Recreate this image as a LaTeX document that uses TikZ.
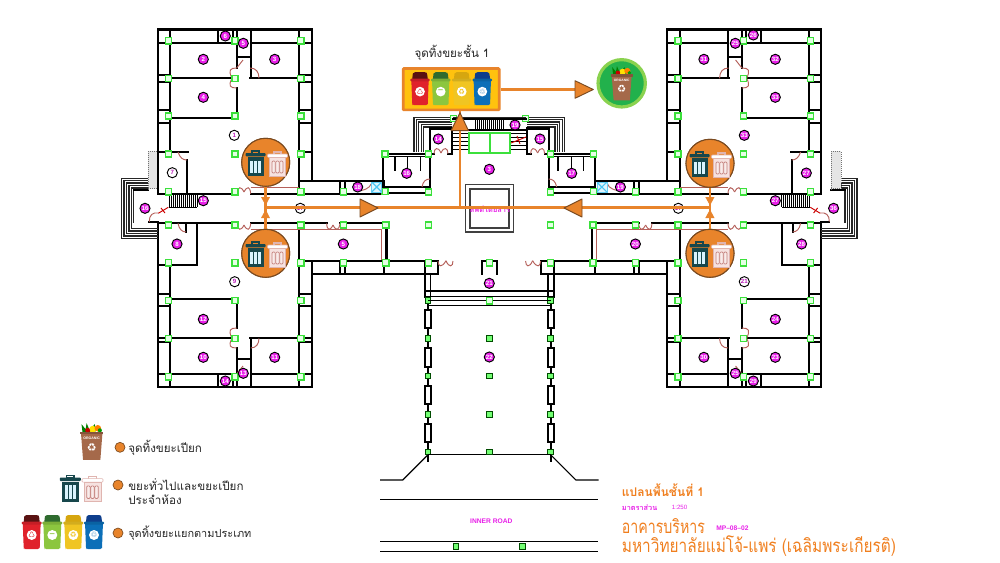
\documentclass[tikz,border=0pt]{standalone}
\usepackage{fontspec}
\newfontfamily\thaifont[Script=Thai]{Loma}
\newfontfamily\symfont{DejaVu Sans}
\setmainfont{Liberation Sans}
\definecolor{wcorange}{HTML}{E8842B}
\definecolor{wcbrown}{HTML}{7A4A20}
\definecolor{wcmag}{HTML}{E81FE8}
\definecolor{wcdoor}{HTML}{B5605A}
\definecolor{wcteal}{HTML}{17474C}
\definecolor{wcpink}{HTML}{F3D9D6}
\definecolor{wcpinkd}{HTML}{E0B5B0}
\definecolor{wcorg}{HTML}{A5694A}
\definecolor{wctitle}{HTML}{F07F1F}
\definecolor{wccol}{HTML}{3BE03B}
\definecolor{binred}{HTML}{E0222B}\definecolor{binredd}{HTML}{5A1212}
\definecolor{bingreen}{HTML}{8CC63F}\definecolor{bingreend}{HTML}{2F6B2F}
\definecolor{binyellow}{HTML}{F0C522}\definecolor{binyellowd}{HTML}{D6A60F}
\definecolor{binblue}{HTML}{0C6FB8}\definecolor{binblued}{HTML}{0E3E8C}
\definecolor{boxyellow}{HTML}{FFC20E}
\definecolor{discgreen}{HTML}{22B14C}
\definecolor{discring}{HTML}{8AD24F}
\tikzset{
 wall/.style={line width=1.65pt,draw=black,line cap=rect},
 thin wall/.style={line width=.9pt,draw=black},
 stairline/.style={line width=1pt,draw=black!85},
 doorline/.style={line width=.7pt,draw=wcdoor},
 redline/.style={line width=.7pt,draw=red!80!black},
 colbox/.style={rectangle,draw=wccol,fill=green!10,line width=1.1pt,minimum size=4.6pt,inner sep=0pt},
 colboxd/.style={rectangle,draw=green!30!black,fill=green!55,line width=.7pt,minimum size=4.3pt,inner sep=0pt},
 roomnum/.style={circle,draw=black,fill=wcmag,line width=.7pt,minimum size=7.6pt,inner sep=0pt,text=white,font=\fontsize{4.6}{5}\selectfont\bfseries},
 roomnumw/.style={roomnum,fill=white,text=wcmag!80!black},
 flow/.style={line width=1.9pt,draw=wcorange},
 tip/.style={fill=wcorange,draw=wcbrown,line width=.7pt,line join=round},
 thaitext/.style={font=\thaifont\fontsize{8.7}{11}\selectfont,text=black!85,anchor=west,inner sep=0pt},
 legenddot/.style={circle,fill=wcorange,draw=wcbrown,line width=.5pt,minimum size=7.5pt,inner sep=0pt},
 bigdot/.style={circle,fill=wcorange,draw=wcbrown,line width=.8pt,minimum size=36pt,inner sep=0pt},
 ttl/.style={anchor=west,inner sep=0pt,text=wctitle},
}
\newcommand{\col}[2]{\node[colbox] at (#1,#2) {};}
\newcommand{\cold}[2]{\node[colboxd] at (#1,#2) {};}
\newcommand{\recbin}[6]{\begin{scope}[shift={(#1,#2)},scale=#3]
 \fill[#4] (-8,-10) -- (-7.4,-15.5) [rounded corners=1pt] -- (-6.5,-17) -- (6.5,-17) -- (7.4,-15.5) [sharp corners] -- (8,-10) -- cycle;
 \fill[#5] (-9,-10) -- (9,-10) -- (8,16) [rounded corners=1pt] -- (7.6,17) -- (-7.6,17) -- (-8,16) [sharp corners] -- cycle;
 \fill[#5!88!black,rounded corners=.8pt] (-10,-10.5) rectangle (10,-7.5);
 \fill[white] (0,3) circle (5);
 \node[text=#5,font=\symfont\fontsize{5.6}{6}\selectfont\bfseries,inner sep=0pt,transform shape] (g) at (0,3) {#6};
\end{scope}}
\newcommand{\orgbin}[3]{\begin{scope}[shift={(#1,#2)},scale=#3]
 \fill[green!50!black] (-9,-9) -- (-10,-17) -- (-6,-12) -- (-5,-18) -- (-2,-11) -- (3,-17) -- (4,-10) -- cycle;
 \fill[yellow!85!orange] (1,-12) circle (3.4);
 \fill[orange] (6,-13) circle (3.2);
 \fill[red!80!black] (-4,-11) circle (2.4);
 \fill[green!60!black] (8,-11) circle (2);
 \fill[wcorg] (-10.5,-8) -- (10.5,-8) -- (8.5,18) -- (-8.5,18) -- cycle;
 \fill[wcorg!80!black] (-11.5,-9.5) rectangle (11.5,-7);
 \node[text=white,font=\fontsize{2.6}{3}\selectfont\bfseries,inner sep=0pt,transform shape] (t) at (0,-3) {ORGANIC};
 \node[text=white,font=\symfont\fontsize{8}{9}\selectfont,inner sep=0pt,transform shape] (r) at (0,6) {♻};
\end{scope}}
\newcommand{\trasha}[3]{\begin{scope}[shift={(#1,#2)},scale=#3]
 \draw[wcteal,line width=1pt] (-3.5,-9.5) rectangle (3.5,-12);
 \fill[wcteal,rounded corners=.7pt] (-10,-10) rectangle (10,-6.6);
 \fill[wcteal] (-8,-5.6) rectangle (8,13);
 \fill[white!85!cyan] (-5.5,-2.5) rectangle (-2.4,10);
 \fill[white!85!cyan] (-1.5,-2.5) rectangle (1.5,10);
 \fill[white!85!cyan] (2.4,-2.5) rectangle (5.5,10);
\end{scope}}
\newcommand{\trashb}[3]{\begin{scope}[shift={(#1,#2)},scale=#3]
 \draw[wcpinkd,line width=.8pt] (-3.5,-8.5) rectangle (3.5,-11);
 \draw[wcpinkd,fill=white,line width=.4pt,rounded corners=.7pt] (-10,-9) rectangle (10,-5.6);
 \draw[wcpinkd,fill=wcpink!75!white,line width=.4pt] (-8,-5.3) rectangle (8,13);
 \draw[wcdoor!80!white,line width=.5pt,fill=wcpink!50!white,rounded corners=.8pt] (-5.5,-2) rectangle (-2.2,10);
 \draw[wcdoor!80!white,line width=.5pt,fill=wcpink!50!white,rounded corners=.8pt] (-1.6,-2) rectangle (1.6,10);
 \draw[wcdoor!80!white,line width=.5pt,fill=wcpink!50!white,rounded corners=.8pt] (2.2,-2) rectangle (5.5,10);
\end{scope}}
% one half of the plan; the other half is its mirror image
\newcommand{\halfplan}{%
 % outer wing
 \draw[wall] (157.7,152) -- (157.7,29.5) -- (311.7,29.5) -- (311.7,181);
 \draw[wall] (157.7,152) -- (187.5,152);
 \draw[wall] (157.7,193.7) -- (237,193.7);
 \draw[wall] (250.7,193.7) -- (384,193.7);
 \draw[wall] (157.7,223.3) -- (237,223.3);
 \draw[wall] (250.7,223.3) -- (326.7,223.3);
 \draw[wall] (340,223.3) -- (386.5,223.3) -- (386.5,260.7);
 \draw[wall] (157.7,223.3) -- (157.7,387.3) -- (311.7,387.3) -- (311.7,261);
 \draw[wall] (311.7,181) -- (384,181);
 \draw[wall] (170,42.7) -- (170,152);
 \draw[wall] (299,29.5) -- (299,193.7);
 \draw[wall] (157.7,42.7) -- (235,42.7);
 \draw[wall] (250.7,42.7) -- (311.7,42.7);
 \draw[wall] (170,29.5) -- (170,42.7);
 \draw[wall] (217.7,29.5) -- (217.7,42.7);
 \draw[wall] (233,29.5) -- (233,42.7);
 \draw[wall] (236.7,29.5) -- (236.7,68);
 \draw[wall] (250.7,29.5) -- (250.7,77);
 \draw[wall] (236.7,56.7) -- (250.7,56.7);
 \draw[wall] (170,78.3) -- (232,78.3);
 \draw[wall] (250,78.3) -- (299,78.3);
 \draw[wall] (157.7,75) -- (170,75); \draw[wall] (157.7,81.7) -- (170,81.7);
 \draw[wall] (299,75) -- (311.7,75); \draw[wall] (299,81.7) -- (311.7,81.7);
 \draw[wall] (157.7,110) -- (170,110); \draw[wall] (157.7,122.7) -- (170,122.7);
 \draw[wall] (299,110) -- (311.7,110); \draw[wall] (299,122.7) -- (311.7,122.7);
 \draw[wall] (299,152) -- (311.7,152); \draw[wall] (299,181) -- (311.7,181);
 \draw[wall] (236.7,88) -- (236.7,118.3) -- (170,118.3);
 \draw[wall] (186.7,160) -- (186.7,193.7);
 \draw[wall] (340,181) -- (340,193.7); \draw[wall] (345,181) -- (345,193.7);
 \draw[wall] (384,181) -- (384,193.7);
 % lower part
 \draw[wall] (157.7,265) -- (196.7,265) -- (196.7,223.3);
 \draw[wall] (186,223.3) -- (186,232);
 \draw[wall] (170,265) -- (170,387.3);
 \draw[wall] (299,223.3) -- (299,387.3);
 \draw[wall] (299,261) -- (386.5,261);
 \draw[wall] (311.7,274) -- (438,274) -- (438,260.7);
 \draw[wall] (340,261) -- (340,274); \draw[wall] (345,261) -- (345,274);
 \draw[wall] (384,261) -- (384,274);
 \draw[wall] (386.5,260.7) -- (438,260.7);
 \draw[wall] (425,260.7) -- (425,296.7);
 \draw[thin wall] (430.7,274) -- (430.7,296.7);
 \draw[wall] (157.7,294) -- (170,294); \draw[wall] (157.7,306) -- (170,306);
 \draw[wall] (299,294) -- (311.7,294); \draw[wall] (299,306) -- (311.7,306);
 \draw[wall] (170,299) -- (236.7,299) -- (236.7,328);
 \draw[wall] (157.7,338.3) -- (232,338.3);
 \draw[wall] (250,338.3) -- (311.7,338.3);
 \draw[wall] (157.7,341.7) -- (170,341.7); \draw[wall] (299,341.7) -- (311.7,341.7);
 \draw[wall] (250.7,338.3) -- (250.7,387.3);
 \draw[wall] (236.7,348) -- (236.7,387.3);
 \draw[wall] (236.7,359.3) -- (250.7,359.3);
 \draw[wall] (157.7,374.3) -- (236.7,374.3);
 \draw[wall] (250.7,374.3) -- (311.7,374.3);
 \draw[wall] (218,374.3) -- (218,387.3); \draw[wall] (233,374.3) -- (233,387.3);
 % doors
 \draw[doorline] (232,78.3) .. controls (228,70) and (230,68) .. (236.7,68);
 \draw[doorline] (232,78.3) .. controls (228,86) and (230,88) .. (236.7,88);
 \draw[doorline] (250,68) .. controls (256,68) and (259,72) .. (259,78.3);
 \draw[doorline] (232,338.3) .. controls (228,330) and (230,328) .. (236.7,328);
 \draw[doorline] (232,338.3) .. controls (228,346) and (230,348) .. (236.7,348);
 \draw[doorline] (250.7,348) .. controls (256,348) and (259,344) .. (259,338.3);
 \draw[doorline] (237,193.7) .. controls (238,186) and (241,186) .. (244,192);
 \draw[doorline] (250.7,193.7) .. controls (250,186) and (247,186) .. (244,192);
 \draw[doorline] (237,223.3) .. controls (238,231) and (241,231) .. (244,225);
 \draw[doorline] (250.7,223.3) .. controls (250,231) and (247,231) .. (244,225);
 \draw[doorline] (326.7,223.3) .. controls (327,231) and (330,231) .. (333,225);
 \draw[doorline] (340,223.3) .. controls (339,231) and (336,231) .. (333,225);
 \draw[doorline] (178,152) .. controls (180,158) and (183,160) .. (187,160);
 \draw[doorline] (178,223.3) .. controls (179,229) and (182,232) .. (186,232);
 \draw[doorline] (250.7,187.7) -- (299,187.7);
 \draw[doorline] (250.7,229.3) -- (381.7,229.3) -- (381.7,260);
 \draw[doorline] (236.7,68) -- (243,60);
 \draw[doorline] (236.7,374) -- (243,366);
 \draw[doorline] (355,191) .. controls (364,191) and (370,188) .. (371,184);
 \draw[doorline] (438,261) .. controls (438,267) and (442,268) .. (446,260.7);
 \draw[doorline] (453,261) .. controls (453,267) and (449,268) .. (446,260.7);
 % side stairs
 \foreach \i in {0,1,2,3,4}{
  \draw[stairline] (147.7,178.3+2.4*\i) -- (121.7+2.4*\i,178.3+2.4*\i) -- (121.7+2.4*\i,238.3-2.4*\i) -- (157.7,238.3-2.4*\i);}
 \draw[stairline] (133.5,190) -- (133.5,223);
 \draw[wall] (134,190) -- (147.7,190);
 \draw[wall] (149.3,221.7) -- (157.7,221.7);
 \draw[doorline] (149.3,221.7) .. controls (149,215) and (153,212) .. (158.3,213);
 \draw[redline] (158.3,213.3) -- (168.3,207.3);
 \draw[redline] (161,208) -- (165,213);
 \node[draw=black!55,densely dotted,line width=.5pt,fill=black!10,minimum width=7.3pt,minimum height=28pt,inner sep=0pt,anchor=north west] (dot) at (147.7,151) {};
 \draw[wall] (157.7,152) -- (157.7,193.7);
 % small stair block
 \draw[thin wall] (169,207.5) -- (197,207.5);
 \foreach \x in {169,171,...,197}{\draw[line width=.55pt] (\x,194.5) -- (\x,206.5);}
 % central room and front stairs
 \draw[wall] (383.3,193) -- (383.3,153.7) -- (430,153.7) -- (430,193) -- (384,193);
 \draw[thin wall] (383.3,156.7) -- (430,156.7);
 \draw[thin wall] (383.3,187) -- (430,187);
 \draw[thin wall] (395,156.7) -- (395,171); \draw[thin wall] (407.3,156.7) -- (407.3,171); \draw[thin wall] (420.7,156.7) -- (420.7,171);
 \draw[doorline] (422,187) .. controls (423,181) and (426,179) .. (430,179);
 \foreach \i in {0,1,2,3,4}{
  \draw[stairline] (414+2.4*\i,152) -- (414+2.4*\i,117.3+2.4*\i) -- (451.7,117.3+2.4*\i);}
 \draw[wall] (430,153.7) -- (430,128.5) -- (451.7,128.5) -- (451.7,153.7) -- (448,153.7);
 \draw[wall] (430,153.7) -- (434,153.7);
 \draw[doorline] (434,153.7) .. controls (434,148) and (438,146) .. (441,153);
 \draw[doorline] (448,153.7) .. controls (448,148) and (444,146) .. (441,153);
 \draw[line width=.6pt] (452,133) -- (468,133) (452,137) -- (468,137) (452,141) -- (468,141) (452,145) -- (468,145) (452,149) -- (468,149);
 % verandah
 \draw[wall] (428,296.7) -- (428,310);
 \foreach \y in {310,348.3,386,424}{
  \draw[line width=1.5pt] (425,\y) rectangle (431,\y+18.3);
  \draw[line width=1.5pt] (428,\y+18.3) -- (428,\y+38);}
 % road edge
 \draw[line width=.9pt] (428,454.7) -- (402.7,480) -- (380,480);
 % columns
 \foreach \y in {40.7,78.3,116,154,191.7,225,262.7,300.3,338.3,376.7}{\col{168.3}{\y}\col{300.7}{\y}}
 \foreach \y in {40.7,78.3,116,154,191.7,225,262.7,300.3,338.3,376.7}{\col{235}{\y}}
 \col{343.3}{191.7}\col{385}{191.3}\col{343.3}{225}\col{385.7}{225}\col{343.3}{262.7}\col{385.7}{262.7}
 \col{385}{154}\col{428.3}{154}\col{428.3}{192}\col{428.3}{225}\col{428.3}{262.7}
 \col{453.3}{118.3}
 \foreach \y in {300.7,338.3,376,414.3,452}{\cold{428}{\y}}
 % lift cross
 \node[draw=cyan!60,fill=cyan!12,line width=.5pt,minimum size=7.4pt,inner sep=0pt] (xb) at (376.7,187) {};
 \draw[cyan!70,line width=.9pt] (372,182.3) -- (381.5,191.7) (381.5,182.3) -- (372,191.7);
}
\begin{document}
\begin{tikzpicture}[x=0.75pt,y=-0.75pt]
\useasboundingbox (0,0) rectangle (1000,562);
\fill[white] (0,0) rectangle (1000,562);
\halfplan
\begin{scope}[shift={(978.6,0)},xscale=-1]
\halfplan
\end{scope}
% shared central parts
\draw[stairline] (453,117.3) -- (526,117.3);
\draw[wall] (453,119) -- (526,119);
\foreach \x in {475,477,...,503}{\draw[line width=.55pt] (\x,119) -- (\x,130);}
\draw[line width=.9pt] (453,130) -- (526,130);
\draw[wccol,line width=1.5pt] (469,132.7) rectangle (490,152.7);
\draw[wccol,line width=1.5pt] (490,132.7) rectangle (510,152.7);
\draw[redline] (511,143) -- (526,137);
\draw[redline] (517,136) -- (520,144);
\draw[line width=1pt,draw=black!75] (465.7,184.7) rectangle (513.3,232);
\draw[line width=1pt,draw=black!75] (470,189) rectangle (509,228);
\draw[wall] (481.7,274) -- (481.7,260.7) -- (496.7,260.7) -- (496.7,274);
\draw[line width=1pt] (425,291) -- (553.6,291);
\draw[line width=1pt] (425,296.7) -- (553.6,296.7);
\draw[line width=.8pt] (428,300.7) -- (550.7,300.7);
\draw[line width=.8pt] (428,305.7) -- (550.7,305.7);
\draw[line width=1pt] (428,454.7) -- (550.7,454.7);
\draw[line width=1pt] (380,499.3) -- (598,499.3);
\draw[line width=1pt] (380,541.7) -- (598,541.7);
\draw[line width=.8pt] (380,551.7) -- (598,551.7);
\foreach \x/\y in {489.3/262.7,489.3/300.7}{\col{\x}{\y}}
\foreach \y in {338.3,376,414.3,452}{\cold{489.3}{\y}}
\cold{456}{546.7}\cold{522.3}{546.7}
\node[text=wcmag,font=\thaifont\fontsize{5.6}{7}\selectfont\bfseries,inner sep=0pt] (lift) at (490,209) {ลิฟต์โดยสาร};
\node[text=wcmag,font=\fontsize{5}{6}\selectfont\bfseries,inner sep=0pt] (road) at (491.3,521) {INNER ROAD};
% room numbers
\foreach \x/\y/\t in {203.3/59.3/2,274.7/59.3/3,203.3/97.3/4,225.3/36/6,243.3/43.3/5,145/208.3/16,203.3/200.7/15,177/244/8,343.3/244/5,203.3/319.3/12,203.3/357.3/10,274.7/357.3/11,243.3/373.3/13,225.3/381/14,357.7/187/18,406.7/173.3/16,438.3/139/14,515/125/19,540/139/15,489.3/169.3/3,571.7/173.3/17,620.4/187/19,489.3/283.3/21,489.3/357/22,635.4/244/20,775.3/59.3/32,703.9/59.3/31,775.3/97.3/33,753.3/35/26,735.3/43.3/25,833.6/208.3/36,775.3/200.7/27,801.6/244/28,775.3/319.3/24,775.3/357.3/23,703.9/357.3/30,735.3/373.3/25,753.3/381/29,806.3/173/27,744.3/135.3/33}
 {\node[roomnum] at (\x,\y) {\t};}
\foreach \x/\y/\t in {234.3/135.3/1,172.3/172.7/7,234.7/281.7/9,300.3/208.3/17,744.3/281.7/21,678.3/208.3/17}
 {\node[roomnumw] at (\x,\y) {\t};}
% waste points
\node[bigdot] (pa) at (265.7,162.3) {};
\node[bigdot] (pb) at (265.7,253.3) {};
\node[bigdot] (pc) at (710,163.3) {};
\node[bigdot] (pd) at (710,253.3) {};
\coordinate (ja) at (265.7,207.7);
\coordinate (jb) at (710,207.7);
\coordinate (jc) at (460,207.7);
\draw[flow] (ja) -- (jb);
\draw[flow] (pa) -- (ja);
\draw[flow] (pb) -- (ja);
\draw[flow] (pc) -- (jb);
\draw[flow] (pd) -- (jb);
\node[bigdot] at (pa) {};
\node[bigdot] at (pb) {};
\node[bigdot] at (pc) {};
\node[bigdot] at (pd) {};
\fill[wcorange] (261,197) -- (270,197) -- (265.7,205.5) -- cycle;
\fill[wcorange] (261,218) -- (270,218) -- (265.7,209.5) -- cycle;
\fill[wcorange] (705.3,197) -- (714.5,197) -- (710,205.5) -- cycle;
\fill[wcorange] (705.3,218) -- (714.5,218) -- (710,209.5) -- cycle;
\trasha{255.5}{163}{1}\trashb{277.5}{163}{1}
\trasha{255.5}{254}{1}\trashb{277.5}{254}{1}
\trasha{699.5}{164}{1}\trashb{721.5}{164}{1}
\trasha{699.5}{254}{1}\trashb{721.5}{254}{1}
\draw[tip] (360,199) -- (378,208) -- (360,217) -- cycle;
\draw[tip] (582,199) -- (564,208) -- (582,217) -- cycle;
% central collection box
\node[draw=wcorange,fill=boxyellow,line width=2pt,rounded corners=.6pt,minimum width=72pt,minimum height=31pt,inner sep=0pt] (box) at (451.2,89.2) {};
\recbin{420}{88.7}{.97}{binredd}{binred}{♺}
\recbin{440.7}{88.7}{.97}{bingreend}{bingreen}{−}
\recbin{461.7}{88.7}{.97}{binyellowd}{binyellow}{♻}
\recbin{482.3}{88.7}{.97}{binblued}{binblue}{♲}
\node[thaitext,anchor=center] (boxtitle) at (452,52.5) {จุดทิ้งขยะชั้น 1};
\draw[flow] (jc) -- (box.south -| jc);
\draw[tip] (451,130.7) -- (460,112.7) -- (468.5,130.7) -- cycle;
\node[circle,draw=discring,fill=discgreen,line width=2.4pt,minimum size=35.5pt,inner sep=0pt] (green) at (621.7,83.3) {};
\orgbin{621.7}{83.3}{.95}
\draw[flow] (box.east |- green) ++(0,6) -- (575,89.3);
\draw[tip] (575,80.7) -- (593.3,89.5) -- (575,98.3) -- cycle;
% legend
\orgbin{91.7}{441.5}{1.02}
\node[legenddot] (la) at (120,447.3) {};
\node[thaitext] (lat) at (128,447.7) {จุดทิ้งขยะเปียก};
\trasha{70.3}{488}{1.05}\trashb{92.5}{488}{1.05}
\node[legenddot] (lb) at (118,485) {};
\node[thaitext] (lbt) at (128,485) {ขยะทั่วไปและขยะเปียก};
\node[thaitext] (lbu) at (128,500) {ประจำห้อง};
\recbin{31.7}{532}{1}{binredd}{binred}{♺}
\recbin{52.3}{532}{1}{bingreend}{bingreen}{−}
\recbin{73.3}{532}{1}{binyellowd}{binyellow}{♻}
\recbin{94}{532}{1}{binblued}{binblue}{♲}
\node[legenddot] (lc) at (118,533) {};
\node[thaitext,font=\thaifont\fontsize{8.2}{11}\selectfont] (lct) at (128,533) {จุดทิ้งขยะแยกตามประเภท};
% title block
\node[ttl,font=\thaifont\fontsize{9}{11}\selectfont\bfseries] (ta) at (621.7,490) {แปลนพื้นชั้นที่ 1};
\node[ttl,text=wcmag,font=\thaifont\fontsize{5.5}{6}\selectfont\bfseries] (tb) at (621.7,507.3) {มาตราส่วน};
\node[ttl,text=wcmag,font=\fontsize{4.6}{6}\selectfont] (tc) at (671.7,507.3) {1:250};
\begin{scope}[shift={(621.7,526)},xscale=.76]
\node[ttl,transform shape,font=\thaifont\fontsize{14}{16}\selectfont] (td) at (0,0) {อาคารบริหาร};
\end{scope}
\node[ttl,text=wcmag,font=\fontsize{5}{6}\selectfont\bfseries] (te) at (716,528) {MP--08--02};
\begin{scope}[shift={(621.7,546)},xscale=.825]
\node[ttl,transform shape,font=\thaifont\fontsize{14}{16}\selectfont] (tf) at (0,0) {มหาวิทยาลัยแม่โจ้-แพร่ (เฉลิมพระเกียรติ)};
\end{scope}
\end{tikzpicture}
\end{document}
